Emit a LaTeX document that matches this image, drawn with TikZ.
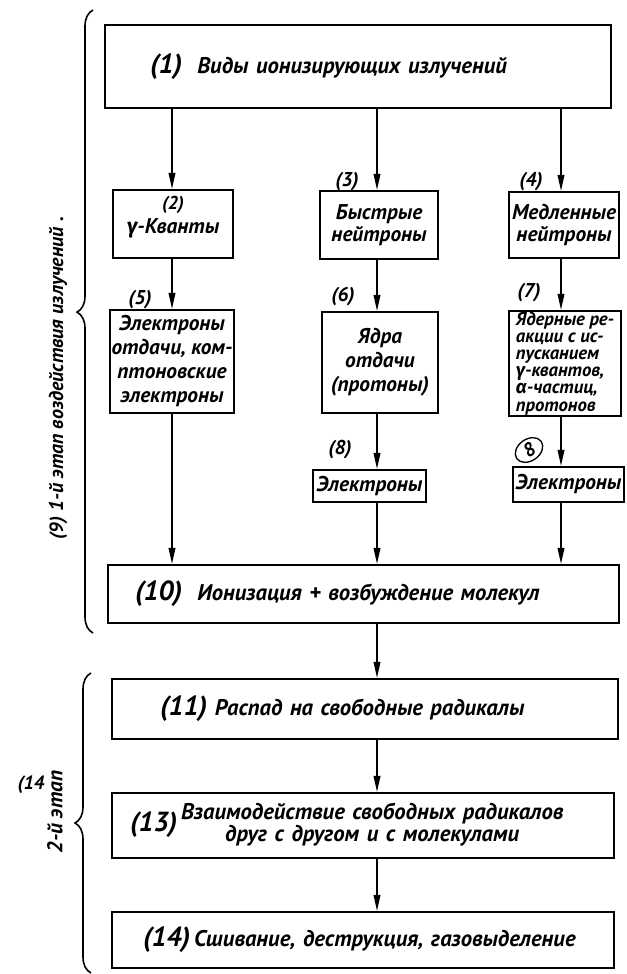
\documentclass[tikz,border=0pt]{standalone}
\usepackage{fontspec}
\setmainfont{PT Sans}
\newfontfamily\grkfont{Fira Sans}
\usepackage{tikz}
\usetikzlibrary{arrows.meta,decorations.pathreplacing,shapes.geometric}
\newcommand{\gk}[1]{{\grkfont #1}}

\begin{document}
\begin{tikzpicture}[x=0.75pt,y=-0.75pt,
	box/.style={draw,line width=1.6pt,rectangle,inner sep=1pt,align=center,font=\fontsize{16}{18}\selectfont\bfseries\itshape},
	wide/.style={box,align=left,font=\fontsize{17}{19}\selectfont\bfseries\itshape},
	num/.style={font=\fontsize{15}{16}\selectfont\bfseries\itshape},
	arr/.style={line width=1.2pt,-{Triangle[length=12pt,width=5pt]}},
	brc/.style={line width=1.2pt,decorate,decoration={brace,amplitude=12pt}}]
	\useasboundingbox (0,0) rectangle (626,974);
	% 三列箭头的横坐标
	\coordinate (cA) at (172,0);
	\coordinate (cB) at (377,0);
	\coordinate (cC) at (561,0);
	% 第一阶段：辐射种类
	\node[wide,minimum width=379.5pt,minimum height=62.25pt,text width=312pt,inner xsep=33.75pt] (n1) at (358,66.5) {{\huge(1)}\ \ Виды ионизирующих излучений};
	\node[box,minimum width=90pt,minimum height=51pt] (n2) at (173,224) {{\fontsize{14}{15}\selectfont(2)}\\[0pt]\gk{γ}-Кванты\\[-5pt]\mbox{}};
	\node[box,minimum width=88.5pt,minimum height=51pt] (n3) at (379,225) {Быстрые\\[-2pt]нейтроны};
	\node[box,minimum width=82.5pt,minimum height=49.5pt] (n4) at (564,225) {Медленные\\[-2pt]нейтроны};
	% 次级粒子
	\node[box,minimum width=90pt,minimum height=77.25pt] (n5) at (172,361.5) {Электроны\\отдачи, ком-\\птоновские\\электроны};
	\node[box,minimum width=87pt,minimum height=75.75pt] (n6) at (380,362.5) {Ядра\\отдачи\\(протоны)};
	\node[box,minimum width=84pt,minimum height=77.25pt,align=left,font=\fontsize{14}{12.8}\selectfont\bfseries\itshape] (n7) at (565,363.5) {Ядерные ре-\\акции с ис-\\пусканием\\\gk{γ}-квантов,\\\gk{α}-частиц,\\протонов};
	\node[box,minimum width=84.75pt,minimum height=24pt] (n8a) at (369.5,486) {Электроны};
	\node[box,minimum width=83.25pt,minimum height=26.25pt] (n8b) at (568.5,484.5) {Электроны};
	\node[wide,minimum width=383.25pt,minimum height=43.5pt,text width=342.75pt,inner xsep=20.25pt] (n10) at (363.5,594) {{\huge(10)}\ \ Ионизация + возбуждение молекул};
	% 第二阶段
	\node[wide,minimum width=379.5pt,minimum height=45pt,text width=307.5pt,inner xsep=36pt] (n11) at (365,709) {{\huge(11)}\ Распад на свободные радикалы};
	\node[wide,minimum width=376.5pt,minimum height=48.75pt,text width=349.5pt,inner xsep=13.5pt,font=\fontsize{17}{16}\selectfont\bfseries\itshape] (n13) at (363,825.5) {{\huge(13)}\,\begin{tabular}{@{}c@{}}Взаимодействие свободных радикалов\\друг с другом и с молекулами\end{tabular}};
	\node[wide,minimum width=376.5pt,minimum height=42pt,text width=330pt,inner xsep=23.25pt] (n14) at (363,940) {{\huge(14)}\,Сшивание, деструкция, газовыделение};
	% 手写的编号
	\node[num] (l3) at (347,182) {(3)};
	\node[num] (l4) at (531,182) {(4)};
	\node[num] (l5) at (140,300) {(5)};
	\node[num] (l6) at (343,297) {(6)};
	\node[num] (l7) at (529,293) {(7)};
	\node[num] (l8a) at (340,450) {(8)};
	\node[num,draw,ellipse,line width=1pt,inner xsep=4pt,inner ysep=0.5pt,rotate=35] (l8b) at (529,450) {\Large 8};
	% 箭头
	\draw[arr] (n1.south -| cA) -- (n2.north -| cA);
	\draw[arr] (n1.south -| cB) -- (n3.north -| cB);
	\draw[arr] (n1.south -| cC) -- (n4.north -| cC);
	\draw[arr] (n2.south -| cA) -- (n5.north -| cA);
	\draw[arr] (n3.south -| cB) -- (n6.north -| cB);
	\draw[arr] (n4.south -| cC) -- (n7.north -| cC);
	\draw[arr] (n6.south -| cB) -- (n8a.north -| cB);
	\draw[arr] (n7.south -| cC) -- (n8b.north -| cC);
	\draw[arr] (n5.south -| cA) -- (n10.north -| cA);
	\draw[arr] (n8a.south -| cB) -- (n10.north -| cB);
	\draw[arr] (n8b.south -| cC) -- (n10.north -| cC);
	\draw[arr] (n10.south -| cB) -- (n11.north -| cB);
	\draw[arr] (n11.south -| cB) -- (n13.north -| cB);
	\draw[arr] (n13.south -| cB) -- (n14.north -| cB);
	% 左侧花括号与阶段说明
	\draw[brc,decoration={aspect=0.515}] (93,633) -- (93,10);
	\draw[brc] (91,973) -- (91,673);
	\node[num,rotate=90,font=\fontsize{15}{16}\selectfont\bfseries\itshape] (st1) at (58,378) {{\Large(9)}\ 1-й этап воздействия излучений\ .};
	\node[num] (st2n) at (31,785) {\Large(14};
	\node[num,rotate=90,font=\fontsize{16}{18}\selectfont\bfseries\itshape] (st2) at (55,812) {2-й этап};
\end{tikzpicture}
\end{document}
